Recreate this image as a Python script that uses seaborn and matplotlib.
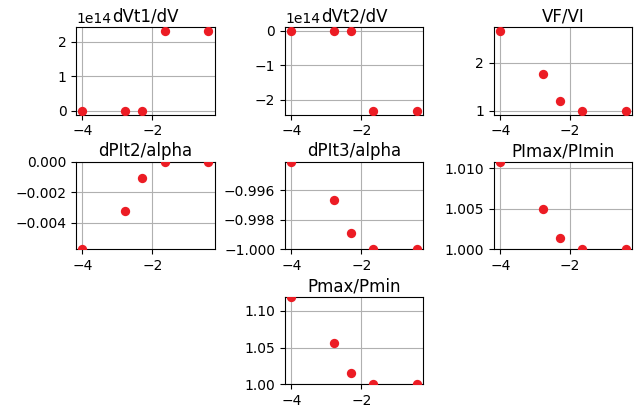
import numpy as np
import pandas as pd
import matplotlib
matplotlib.use("Agg")
import matplotlib.pyplot as plt
import seaborn as sns

# log10 of the parameter values on the x axis
x = [-4.0, -2.79, -2.3, -1.65, -0.4]

# one list per panel
dVt1_dV = [0.0, 0.0, 0.0, 2.31e14, 2.31e14]
dVt2_dV = [0.0, 0.0, 0.0, -2.31e14, -2.31e14]
VF_VI = [2.67, 1.77, 1.19, 1.0, 1.0]
dPIt2_alpha = [-0.00574, -0.00322, -0.00105, 0.0, 0.0]
dPIt3_alpha = [-0.9941, -0.99665, -0.9989, -1.0, -1.0]
PImax_PImin = [1.0108, 1.0050, 1.00138, 1.0, 1.0]
Pmax_Pmin = [1.119, 1.0557, 1.0153, 1.0, 1.0]

panels = [
    ("dVt1/dV", dVt1_dV, False),
    ("dVt2/dV", dVt2_dV, False),
    ("VF/VI", VF_VI, False),
    ("dPIt2/alpha", dPIt2_alpha, True),
    ("dPIt3/alpha", dPIt3_alpha, True),
    ("PImax/PImin", PImax_PImin, True),
    ("Pmax/Pmin", Pmax_Pmin, True),
]
# grid slots (row, col) for each panel
slots = [(0, 0), (0, 1), (0, 2), (1, 0), (1, 1), (1, 2), (2, 1)]

# plain matplotlib look, no seaborn theme
plt.rcParams["font.family"] = ["DejaVu Sans"]

fig, axes = plt.subplots(3, 3, figsize=(6.4, 4.08), dpi=100)
fig.subplots_adjust(left=0.119, right=0.988, top=0.934, bottom=0.058,
                    wspace=0.51, hspace=0.54)

for (title, vals, tight), (r, c) in zip(panels, slots):
    ax = axes[r, c]
    df = pd.DataFrame({"x": x, "y": vals})
    sns.scatterplot(data=df, x="x", y="y", ax=ax, color="#ec1c24",
                    s=45, linewidth=0, zorder=3)
    ax.set_title(title, fontsize=12, pad=4)
    ax.set_xlabel("")
    ax.set_ylabel("")
    ax.grid(True, color="#b0b0b0", linewidth=0.8)
    ax.set_axisbelow(True)
    ax.set_xticks([-4, -2])
    if tight:
        ax.set_ylim(min(vals), max(vals))

axes[2, 0].axis("off")
axes[2, 2].axis("off")

fig.savefig("out.png", dpi=100)
